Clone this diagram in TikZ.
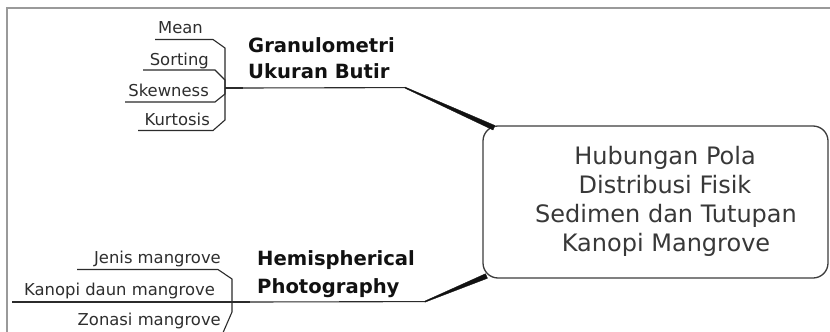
\documentclass[tikz,border=0pt]{standalone}
\usepackage{fontspec}
\setmainfont{DejaVu Sans}
\usetikzlibrary{calc}
\definecolor{lc}{HTML}{2B2B2B}
\definecolor{tc}{HTML}{2E2E2E}
\definecolor{bc}{HTML}{111111}
\definecolor{boxc}{HTML}{3C3C3C}
\definecolor{framec}{HTML}{9A9A9A}
\definecolor{hubtc}{HTML}{383838}
\begin{document}
\begin{tikzpicture}[x=1pt,y=-1pt,
  ln/.style={draw=lc, line width=1.1pt},
  stub/.style={draw=lc, line width=1.8pt},
  taper/.style={fill=bc, draw=bc, line width=0.3pt},
  sub/.style={font=\fontsize{16.4}{19}\selectfont, text=tc, inner sep=0pt, anchor=base east},
  brl/.style={font=\bfseries\fontsize{19.6}{23}\selectfont, text=bc, inner sep=0pt, anchor=base west},
  hubl/.style={font=\fontsize{24}{28}\selectfont, text=hubtc, inner sep=0pt, anchor=base},
  hubbox/.style={draw=boxc, line width=1.3pt, rounded corners=15pt, minimum width=345pt, minimum height=152pt, inner sep=0pt}
]
\useasboundingbox (0,0) rectangle (830,332);
\clip (0,0) rectangle (830,332);
\fill[white] (0,0) rectangle (830,332);
% frame
\draw[framec, line width=1.5pt] (7,332) -- (7,8) -- (830,8);

% central box
\node[hubbox] (hub) at (655.5,202) {};
\node[hubl] (h1) at (665,164) {Hubungan Pola};
\node[hubl] (h2) at (665,193) {Distribusi Fisik};
\node[hubl] (h3) at (666,222) {Sedimen dan Tutupan};
\node[hubl] (h4) at (666,251) {Kanopi Mangrove};

% Granulometri branch
\node[brl] (g1) at (248,52) {Granulometri};
\node[brl] (g2) at (248,78) {Ukuran Butir};
\coordinate (gj) at (225,88);
\coordinate (gs) at (243,88);
\coordinate (ge) at (405,87.6);
\draw[stub] (gj) -- (gs);
\draw[ln] (gs) -- (ge);
\fill[taper] (405,87) -- (495,125.5) -- (493,130) -- (405,88.2) -- cycle;

\node[sub] (mean) at (203,34) {Mean};
\node[sub] (sort) at (209,65) {Sorting};
\node[sub] (skew) at (209,96) {Skewness};
\node[sub] (kurt) at (210,125) {Kurtosis};
\draw[ln] (155,39.5) -- (213,39.5) -- (225,48) -- (gj);
\draw[ln] (143,70) -- (215,70) -- (225,80) -- (gj);
\draw[ln] (125,102) -- (215,102) -- (225,94) -- (gj);
\draw[ln] (138,130.5) -- (213,130.5) -- (225,120) -- (gj);

% Hemispherical branch
\node[brl] (p1) at (257,265) {Hemispherical};
\node[brl] (p2) at (257,293) {Photography};
\coordinate (hj) at (232,302);
\coordinate (hs) at (250,302);
\coordinate (he) at (425,301.6);
\draw[stub] (hj) -- (hs);
\draw[ln] (hs) -- (he);
\fill[taper] (425,301) -- (485.5,273.7) -- (487.5,278.3) -- (425,302.2) -- cycle;

\node[sub] (jenis) at (221,263) {Jenis mangrove};
\node[sub] (kanopi) at (215,295) {Kanopi daun mangrove};
\node[sub] (zonasi) at (221,325) {Zonasi mangrove};
\draw[ln] (77,269.5) -- (218,269.5) -- (232,279) -- (hj);
\draw[ln] (12,302) -- (hj);
\draw[ln] (hj) -- (232,312) -- (222,335);
\end{tikzpicture}
\end{document}
